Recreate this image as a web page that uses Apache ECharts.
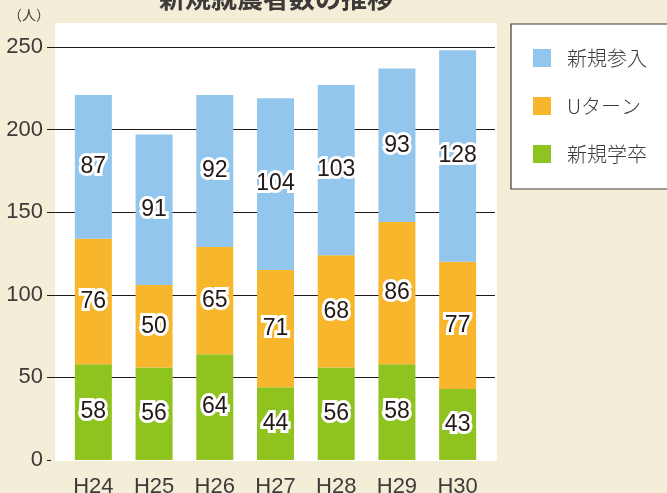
<!DOCTYPE html>
<html>
<head>
<meta charset="utf-8">
<script src="https://cdn.jsdelivr.net/npm/echarts@6/dist/echarts.min.js"></script>
<style>
  html, body { margin: 0; padding: 0; background: #f4eed8; }
  #main { width: 667px; height: 493px; }
</style>
</head>
<body>
<div id="main"></div>
<script>
// 年度
const years = ['H24', 'H25', 'H26', 'H27', 'H28', 'H29', 'H30'];
// 新規学卒 / Uターン / 新規参入 (人)
const gakusotsu = [58, 56, 64, 44, 56, 58, 43];
const uturn = [76, 50, 65, 71, 68, 86, 77];
const sannyu = [87, 91, 92, 104, 103, 93, 128];
const yTicks = [0, 50, 100, 150, 200, 250];

const numFont = "'Liberation Sans', Arial, sans-serif";
const jpFont = "'Noto Sans CJK JP', sans-serif";
const textColor = '#3e3a39';

const labelStyle = {
  show: true,
  position: 'inside',
  fontFamily: numFont,
  fontSize: 23,
  color: '#231815',
  textBorderColor: '#fff',
  textBorderWidth: 6
};

function barSeries(name, data, color) {
  return {
    name: name,
    type: 'bar',
    stack: 'total',
    xAxisIndex: 1,
    yAxisIndex: 1,
    barWidth: 37,
    itemStyle: { color: color },
    label: labelStyle,
    data: data
  };
}

const chart = echarts.init(document.getElementById('main'));
chart.setOption({
  animation: false,
  backgroundColor: '#f4eed8',
  graphic: {
    elements: [
      { type: 'rect', z: -10, shape: { x: 55, y: 23, width: 442, height: 438 }, style: { fill: '#fff' } },
      { type: 'text', x: 276, y: -15, style: { text: '新規就農者数の推移', font: 'bold 26px ' + jpFont, fill: textColor, textAlign: 'center', textVerticalAlign: 'top' } },
      { type: 'text', x: 29, y: 15, style: { text: '（人）', font: '14px ' + jpFont, fill: textColor, textAlign: 'center', textVerticalAlign: 'middle' } }
    ]
  },
  grid: [
    { left: 51, right: 172, top: 47, bottom: 33, outerBoundsMode: 'none' },
    { left: 63, right: 179, top: 47, bottom: 33, outerBoundsMode: 'none' }
  ],
  legend: {
    orient: 'vertical',
    left: 511,
    top: 24,
    data: ['新規参入', 'Uターン', '新規学卒'],
    icon: 'rect',
    itemWidth: 18,
    itemHeight: 18,
    itemGap: 28,
    padding: [24, 80, 25, 22],
    backgroundColor: '#fff',
    borderColor: '#3e3a39',
    borderWidth: 1.2,
    borderRadius: 0,
    textStyle: { fontFamily: jpFont, fontSize: 20, fontWeight: 300, color: textColor, lineHeight: 18, padding: [0, 0, 0, 11] }
  },
  xAxis: [
    { type: 'category', gridIndex: 0, data: years, show: false },
    {
      type: 'category', gridIndex: 1, data: years,
      axisLine: { show: false }, axisTick: { show: false },
      axisLabel: { fontFamily: numFont, fontSize: 22, color: textColor, margin: 16 }
    }
  ],
  yAxis: [
    {
      type: 'value', gridIndex: 0, min: yTicks[0], max: yTicks[yTicks.length - 1], interval: 50,
      axisLine: { show: false },
      axisTick: { show: true, length: 4, lineStyle: { color: '#231815' } },
      axisLabel: { fontFamily: numFont, fontSize: 22, color: textColor, margin: 8 },
      splitLine: { show: true, showMinLine: false, lineStyle: { color: '#231815', width: 1.2 } }
    },
    { type: 'value', gridIndex: 1, min: 0, max: 250, interval: 50, show: false }
  ],
  series: [
    barSeries('新規学卒', gakusotsu, '#8fc31f'),
    barSeries('Uターン', uturn, '#f8b62d'),
    barSeries('新規参入', sannyu, '#93c6ec')
  ]
});
</script>
</body>
</html>
